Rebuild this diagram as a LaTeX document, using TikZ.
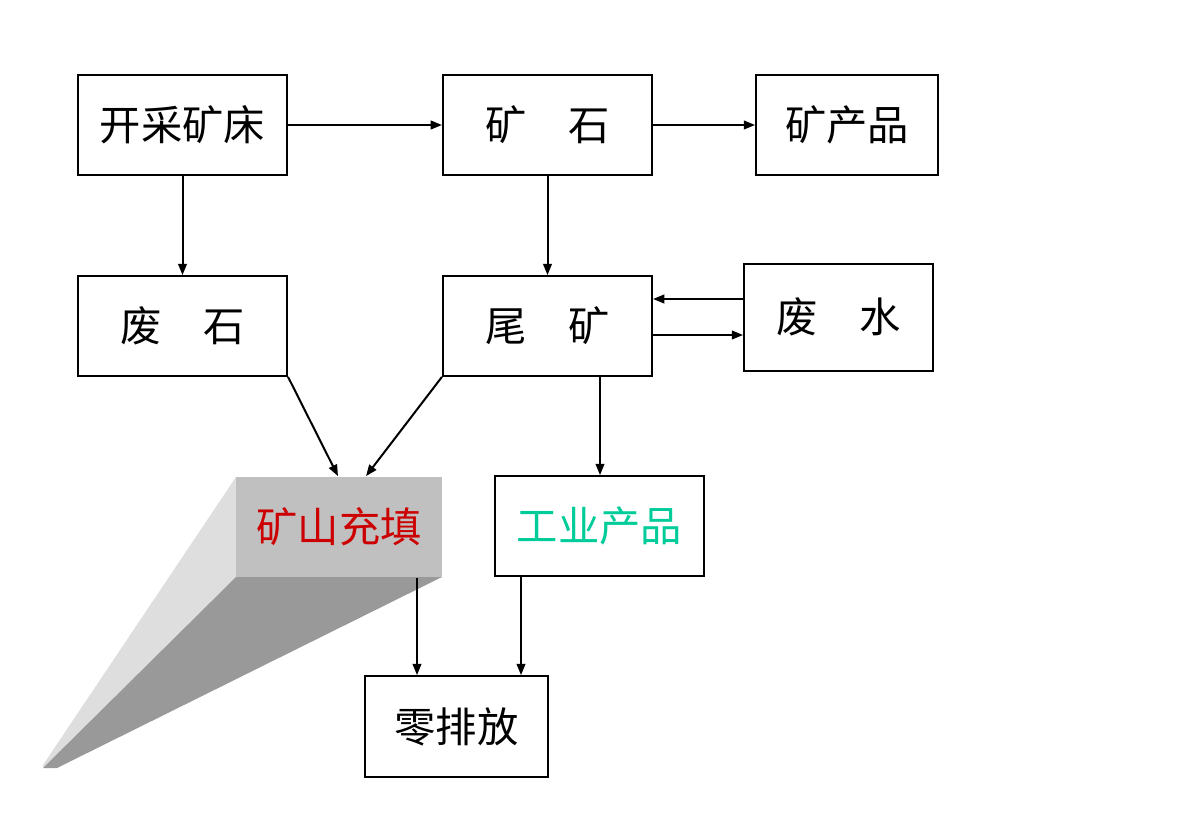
\documentclass[tikz,border=0pt]{standalone}
\usepackage{fontspec}
\setmainfont{Noto Sans CJK SC}
\usetikzlibrary{arrows.meta}
\definecolor{fillred}{HTML}{CC0000}
\definecolor{teal2}{HTML}{00CC99}
\definecolor{facegray}{HTML}{C0C0C0}
\definecolor{lightface}{HTML}{DEDEDE}
\definecolor{darkface}{HTML}{999999}
\begin{document}
\begin{tikzpicture}[x=0.75pt,y=-0.75pt,
  box/.style={draw=black,line width=1.3pt,inner sep=0pt,font=\fontsize{31}{34}\selectfont},
  arr/.style={line width=1.5pt,-{Triangle[length=8.5pt,width=6.5pt]}}]
\useasboundingbox (0,0) rectangle (1199,827);
% 3D extrusion of mine filling
\fill[lightface] (236,477) -- (43,765) -- (43,768) -- (236,577) -- cycle;
\fill[darkface] (236,577) -- (442,577) -- (57,768) -- (43,768) -- cycle;
% boxes
\node[box,minimum width=157pt,minimum height=75pt] (kc) at (182.5,125) {\raisebox{3pt}{开采矿床}};
\node[box,minimum width=157pt,minimum height=75pt] (ks) at (547.5,125) {\raisebox{3pt}{矿　石}};
\node[box,minimum width=136.5pt,minimum height=75pt] (kp) at (847,125) {\raisebox{3pt}{矿产品}};
\node[box,minimum width=157pt,minimum height=75pt] (fs) at (182.5,326) {\raisebox{3pt}{废　石}};
\node[box,minimum width=157pt,minimum height=75pt] (wk) at (547.5,326) {\raisebox{3pt}{尾　矿}};
\node[box,minimum width=141.75pt,minimum height=80.25pt] (fw) at (838.5,317.5) {\raisebox{3pt}{废　水}};
\node[box,draw=none,fill=facegray,text=fillred,minimum width=154.5pt,minimum height=75pt] (ks2) at (339,527) {\raisebox{3pt}{矿山充填}};
\node[box,text=teal2,minimum width=157pt,minimum height=75pt] (gy) at (599.5,526) {\raisebox{3pt}{工业产品}};
\node[box,minimum width=137.25pt,minimum height=75.75pt] (lp) at (456.5,726.5) {\raisebox{2pt}{零排放}};
% connectors
\draw[arr] (kc.east) -- (ks.west);
\draw[arr] (ks.east) -- (kp.west);
\draw[arr] (kc.south) -- (fs.north);
\draw[arr] (ks.south) -- (wk.north);
\draw[arr] (fw.west |- 0,299) -- (wk.east |- 0,299);
\draw[arr] (wk.east |- 0,335) -- (fw.west |- 0,335);
\draw[arr] (fs.south east) -- (ks2.north -| 338,0);
\draw[arr] (wk.south west) -- (ks2.north -| 366,0);
\draw[arr] (wk.south -| 600,0) -- (gy.north -| 600,0);
\draw[arr] (ks2.south -| 417,0) -- (lp.north -| 417,0);
\draw[arr] (gy.south -| 521,0) -- (lp.north -| 521,0);
\end{tikzpicture}
\end{document}
